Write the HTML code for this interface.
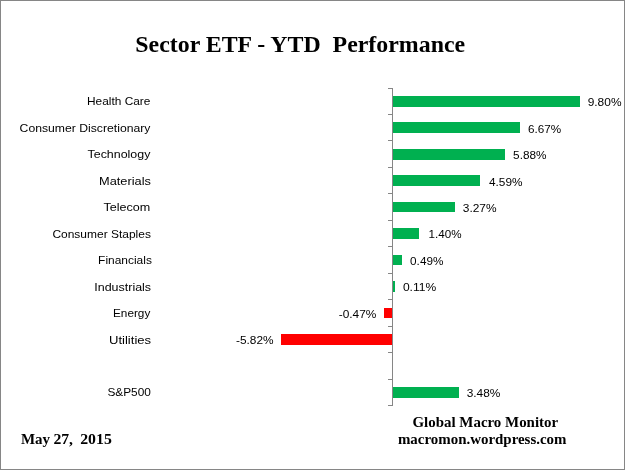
<!DOCTYPE html>
<html><head><meta charset="utf-8"><title>Sector ETF - YTD Performance</title>
<style>
html,body{margin:0;padding:0;background:#fff;}
body{width:625px;height:471px;overflow:hidden;}
svg{display:block;}
.c{font-family:"Liberation Sans",sans-serif;font-size:11.8px;fill:#000;}
.v{font-family:"Liberation Sans",sans-serif;font-size:11.3px;fill:#000;}
.t{font-family:"Liberation Serif",serif;font-weight:bold;fill:#000;}
</style></head><body>
<svg width="625" height="471" viewBox="0 0 625 471">
<rect x="0" y="0" width="625" height="471" fill="#fff"/>
<rect x="0.5" y="0.5" width="624" height="469" fill="#fff" stroke="#868686" stroke-width="1"/>
<text class="t" x="135.3" y="51.6" font-size="23.6px" textLength="329.8" lengthAdjust="spacingAndGlyphs" xml:space="preserve" style="white-space:pre">Sector ETF - YTD  Performance</text>
<g shape-rendering="crispEdges">
<rect x="392" y="88" width="1" height="318" fill="#868686"/>
<rect x="388" y="88" width="4" height="1" fill="#868686"/>
<rect x="388" y="114" width="4" height="1" fill="#868686"/>
<rect x="388" y="140" width="4" height="1" fill="#868686"/>
<rect x="388" y="167" width="4" height="1" fill="#868686"/>
<rect x="388" y="193" width="4" height="1" fill="#868686"/>
<rect x="388" y="220" width="4" height="1" fill="#868686"/>
<rect x="388" y="246" width="4" height="1" fill="#868686"/>
<rect x="388" y="273" width="4" height="1" fill="#868686"/>
<rect x="388" y="299" width="4" height="1" fill="#868686"/>
<rect x="388" y="326" width="4" height="1" fill="#868686"/>
<rect x="388" y="352" width="4" height="1" fill="#868686"/>
<rect x="388" y="379" width="4" height="1" fill="#868686"/>
<rect x="388" y="405" width="4" height="1" fill="#868686"/>
<rect x="393" y="96" width="187" height="11" fill="#00B050"/>
<rect x="393" y="122" width="127" height="11" fill="#00B050"/>
<rect x="393" y="149" width="112" height="11" fill="#00B050"/>
<rect x="393" y="175" width="87" height="11" fill="#00B050"/>
<rect x="393" y="202" width="62" height="10" fill="#00B050"/>
<rect x="393" y="228" width="26" height="11" fill="#00B050"/>
<rect x="393" y="255" width="9" height="10" fill="#00B050"/>
<rect x="393" y="281" width="2" height="11" fill="#00B050"/>
<rect x="384" y="308" width="8" height="10" fill="#FF0000"/>
<rect x="281" y="334" width="111" height="11" fill="#FF0000"/>
<rect x="393" y="387" width="66" height="11" fill="#00B050"/>
</g>
<text class="c" x="87.0" y="105" textLength="63.4" lengthAdjust="spacingAndGlyphs">Health Care</text>
<text class="v" x="587.7" y="106" textLength="33.8" lengthAdjust="spacingAndGlyphs">9.80%</text>
<text class="c" x="19.6" y="132" textLength="130.8" lengthAdjust="spacingAndGlyphs">Consumer Discretionary</text>
<text class="v" x="528.1" y="133" textLength="33.2" lengthAdjust="spacingAndGlyphs">6.67%</text>
<text class="c" x="87.5" y="158" textLength="62.9" lengthAdjust="spacingAndGlyphs">Technology</text>
<text class="v" x="513.1" y="159" textLength="33.4" lengthAdjust="spacingAndGlyphs">5.88%</text>
<text class="c" x="99.0" y="185" textLength="51.9" lengthAdjust="spacingAndGlyphs">Materials</text>
<text class="v" x="489.0" y="186" textLength="33.5" lengthAdjust="spacingAndGlyphs">4.59%</text>
<text class="c" x="103.4" y="211" textLength="46.8" lengthAdjust="spacingAndGlyphs">Telecom</text>
<text class="v" x="462.8" y="212" textLength="33.8" lengthAdjust="spacingAndGlyphs">3.27%</text>
<text class="c" x="52.4" y="238" textLength="98.5" lengthAdjust="spacingAndGlyphs">Consumer Staples</text>
<text class="v" x="428.5" y="238" textLength="33.0" lengthAdjust="spacingAndGlyphs">1.40%</text>
<text class="c" x="98.1" y="264" textLength="53.8" lengthAdjust="spacingAndGlyphs">Financials</text>
<text class="v" x="410.1" y="265" textLength="33.3" lengthAdjust="spacingAndGlyphs">0.49%</text>
<text class="c" x="94.3" y="291" textLength="56.8" lengthAdjust="spacingAndGlyphs">Industrials</text>
<text class="v" x="402.9" y="291" textLength="33.3" lengthAdjust="spacingAndGlyphs">0.11%</text>
<text class="c" x="113.0" y="317" textLength="37.3" lengthAdjust="spacingAndGlyphs">Energy</text>
<text class="v" x="338.7" y="318" textLength="37.6" lengthAdjust="spacingAndGlyphs">-0.47%</text>
<text class="c" x="109.0" y="344" textLength="42.1" lengthAdjust="spacingAndGlyphs">Utilities</text>
<text class="v" x="236.0" y="344" textLength="37.5" lengthAdjust="spacingAndGlyphs">-5.82%</text>
<text class="c" x="107.4" y="396" textLength="43.5" lengthAdjust="spacingAndGlyphs">S&amp;P500</text>
<text class="v" x="466.7" y="397" textLength="33.7" lengthAdjust="spacingAndGlyphs">3.48%</text>
<text class="t" y="443.6" font-size="15px"><tspan x="20.9" textLength="32.9" lengthAdjust="spacingAndGlyphs">May </tspan><tspan x="53.4" textLength="23.6" lengthAdjust="spacingAndGlyphs">27, </tspan><tspan x="80.2" textLength="31.6" lengthAdjust="spacingAndGlyphs">2015</tspan></text>
<text class="t" x="412.5" y="427.2" font-size="15px" textLength="145.6" lengthAdjust="spacingAndGlyphs">Global Macro Monitor</text>
<text class="t" x="397.9" y="443.9" font-size="15px" textLength="168.6" lengthAdjust="spacingAndGlyphs">macromon.wordpress.com</text>
</svg>
</body></html>
